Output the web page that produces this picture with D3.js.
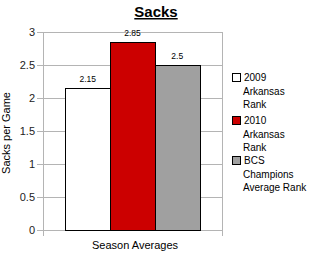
<html>
<head>
<script src="https://d3js.org/d3.v7.min.js"></script>
<style>
body { margin: 0; background: #fff; }
text { font-family: "Liberation Sans", Arial, sans-serif; }
</style>
</head>
<body>
<svg width="314" height="263"></svg>
<script>
// chart data
var category = "Season Averages";
var seriesNames = [["2009", "Arkansas", "Rank"], ["2010", "Arkansas", "Rank"], ["BCS", "Champions", "Average Rank"]];
var seriesValues = [2.15, 2.85, 2.5];
var valueLabels = ["2.15", "2.85", "2.5"];
var yTicks = [0, 0.5, 1, 1.5, 2, 2.5, 3];
var colors = ["#ffffff", "#cc0000", "#a0a0a0"];

var svg = d3.select("svg");
var plotL = 43, plotR = 222, plotT = 32, plotB = 230;

var ys = d3.scaleLinear().domain([0, 3]).range([plotB, plotT]);
var xs = d3.scaleBand().domain([category]).range([plotL, plotR]);
var xsub = d3.scaleBand().domain(d3.range(seriesValues.length))
    .range([0, xs.bandwidth()]).paddingOuter(0.5);

// title
svg.append("text").attr("x", 156).attr("y", 17).attr("text-anchor", "middle")
    .style("font-size", "15px").style("font-weight", "bold")
    .style("text-decoration", "underline").text("Sacks");

// gridlines
svg.append("g").selectAll("line").data(yTicks).enter().append("line")
    .attr("x1", plotL - 6).attr("x2", plotR)
    .attr("y1", function(d) { return ys(d) + 0.5; })
    .attr("y2", function(d) { return ys(d) + 0.5; })
    .attr("stroke", "#b4b4b4");
svg.append("line").attr("x1", plotL + 0.5).attr("x2", plotL + 0.5)
    .attr("y1", plotT).attr("y2", plotB + 6).attr("stroke", "#b4b4b4");
svg.append("line").attr("x1", plotR + 0.5).attr("x2", plotR + 0.5)
    .attr("y1", plotT).attr("y2", plotB + 6).attr("stroke", "#b4b4b4");

// y tick labels
svg.append("g").selectAll("text").data(yTicks).enter().append("text")
    .attr("x", 35).attr("y", function(d) { return ys(d) + 4; })
    .attr("text-anchor", "end").style("font-size", "11px").attr("fill", "#222")
    .text(function(d) { return d; });

// bars
var g = svg.append("g").attr("transform", "translate(" + xs(category) + ",0)");
g.selectAll("rect").data(seriesValues).enter().append("rect")
    .attr("x", function(d, i) { return Math.round(xsub(i)) + 0.5; })
    .attr("y", function(d) { return Math.round(ys(d)) + 0.5; })
    .attr("width", Math.round(xsub.bandwidth()))
    .attr("height", function(d) { return plotB - Math.round(ys(d)); })
    .attr("fill", function(d, i) { return colors[i]; })
    .attr("stroke", "#000");
g.selectAll("text").data(seriesValues).enter().append("text")
    .attr("x", function(d, i) { return xsub(i) + xsub.bandwidth() / 2; })
    .attr("y", function(d) { return ys(d) - 6; })
    .attr("text-anchor", "middle").style("font-size", "8.5px")
    .text(function(d, i) { return valueLabels[i]; });

// axis labels
svg.append("text").attr("x", 135).attr("y", 249).attr("text-anchor", "middle")
    .style("font-size", "11px").text(category);
svg.append("text").attr("transform", "translate(10,133) rotate(-90)")
    .attr("text-anchor", "middle").style("font-size", "11px").text("Sacks per Game");

// legend
var legendY = [73, 116, 156];
var lg = svg.append("g").selectAll("g").data(seriesNames).enter().append("g")
    .attr("transform", function(d, i) { return "translate(232," + legendY[i] + ")"; });
lg.append("rect").attr("x", 0.5).attr("y", 0.5).attr("width", 8).attr("height", 8)
    .attr("fill", function(d, i) { return colors[i]; }).attr("stroke", "#000");
lg.selectAll("text").data(function(d) { return d; }).enter().append("text")
    .attr("x", function(d, j) { return j == 0 ? 12 : 11; })
    .attr("y", function(d, j) { return 8 + j * 13.5; })
    .style("font-size", "10px")
    .text(function(d) { return d; });
</script>
</body>
</html>
